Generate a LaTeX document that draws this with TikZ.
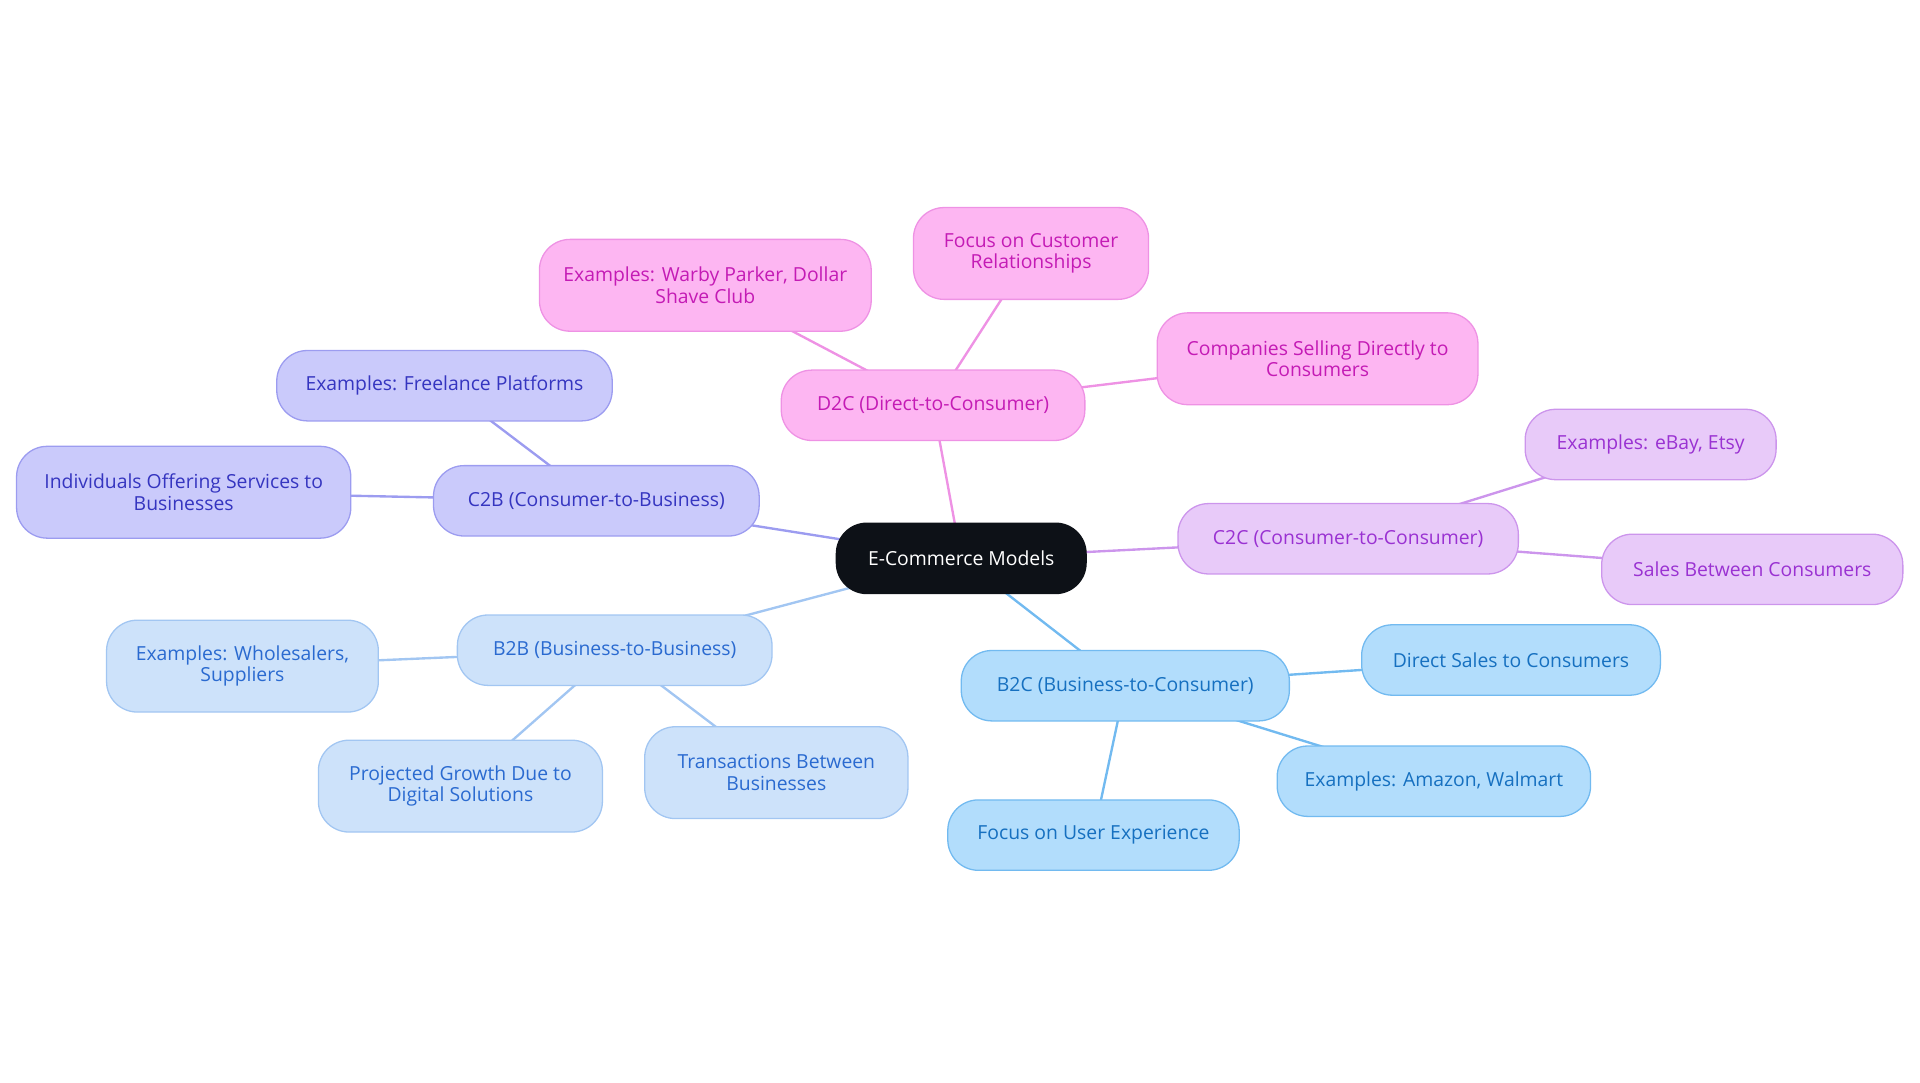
\documentclass[tikz,border=0pt]{standalone}
\usepackage{fontspec}
\setmainfont{Open Sans}
\usetikzlibrary{backgrounds}
\definecolor{rootc}{HTML}{0D1117}
\definecolor{pkF}{HTML}{FDB6F2}\definecolor{pkB}{HTML}{EE92E4}\definecolor{pkT}{HTML}{C41BB5}
\definecolor{inF}{HTML}{CACAFB}\definecolor{inB}{HTML}{9C9CF0}\definecolor{inT}{HTML}{3535C0}
\definecolor{vlF}{HTML}{E8CAF9}\definecolor{vlB}{HTML}{CC95EC}\definecolor{vlT}{HTML}{9A32D2}
\definecolor{lbF}{HTML}{CDE2FA}\definecolor{lbB}{HTML}{A2C6F2}\definecolor{lbT}{HTML}{2A6AD0}
\definecolor{skF}{HTML}{B2DDFC}\definecolor{skB}{HTML}{72BAF0}\definecolor{skT}{HTML}{1670C0}
\begin{document}
\begin{tikzpicture}[x=0.02cm,y=-0.02cm,
  box/.style={rounded corners=0.5cm,draw,line width=0.6pt,align=center,
    font=\fontsize{9}{10}\selectfont,inner sep=0pt,minimum height=1.15cm},
  tall/.style={minimum height=1.5cm},
  pk/.style={box,fill=pkF,draw=pkB,text=pkT},
  ind/.style={box,fill=inF,draw=inB,text=inT},
  vl/.style={box,fill=vlF,draw=vlB,text=vlT},
  lb/.style={box,fill=lbF,draw=lbB,text=lbT},
  sk/.style={box,fill=skF,draw=skB,text=skT},
  ed/.style={line width=1.1pt}]
\useasboundingbox (0,0) rectangle (1568,884);
\node[box,fill=rootc,draw=rootc,text=white,minimum width=4.08cm] (root) at (785,456) {E-Commerce Models};
\node[pk,minimum width=4.96cm] (d2c) at (762,331) {D2C (Direct-to-Consumer)};
\node[pk,tall,minimum width=5.42cm] (d1) at (576,233) {Examples: Warby Parker, Dollar\\Shave Club};
\node[pk,tall,minimum width=3.84cm] (d2) at (842,207) {Focus on Customer\\Relationships};
\node[pk,tall,minimum width=5.24cm] (d3) at (1076,293) {Companies Selling Directly to\\Consumers};
\node[ind,minimum width=5.32cm] (c2b) at (487,409) {C2B (Consumer-to-Business)};
\node[ind,minimum width=5.48cm] (cb1) at (363,315) {Examples: Freelance Platforms};
\node[ind,tall,minimum width=5.46cm] (cb2) at (150,402) {Individuals Offering Services to\\Businesses};
\node[vl,minimum width=5.56cm] (c2c) at (1101,440) {C2C (Consumer-to-Consumer)};
\node[vl,minimum width=4.1cm] (cc1) at (1348,363) {Examples: eBay, Etsy};
\node[vl,minimum width=4.92cm] (cc2) at (1431,465) {Sales Between Consumers};
\node[lb,minimum width=5.14cm] (b2b) at (502,531) {B2B (Business-to-Business)};
\node[lb,tall,minimum width=4.44cm] (bb1) at (198,544) {Examples: Wholesalers,\\Suppliers};
\node[lb,tall,minimum width=4.64cm] (bb2) at (376,642) {Projected Growth Due to\\Digital Solutions};
\node[lb,tall,minimum width=4.3cm] (bb3) at (634,631) {Transactions Between\\Businesses};
\node[sk,minimum width=5.36cm] (b2c) at (919,560) {B2C (Business-to-Consumer)};
\node[sk,minimum width=4.88cm] (bc1) at (1234,539) {Direct Sales to Consumers};
\node[sk,minimum width=5.12cm] (bc2) at (1171,638) {Examples: Amazon, Walmart};
\node[sk,minimum width=4.76cm] (bc3) at (893,682) {Focus on User Experience};
\begin{scope}[on background layer]
\draw[ed,pkB] (root.center)--(d2c.center);
\draw[ed,pkB] (d2c.center)--(d1.center) (d2c.center)--(d2.center) (d2c.center)--(d3.center);
\draw[ed,inB] (root.center)--(c2b.center);
\draw[ed,inB] (c2b.center)--(cb1.center) (c2b.center)--(cb2.center);
\draw[ed,vlB] (root.center)--(c2c.center);
\draw[ed,vlB] (c2c.center)--(cc1.center) (c2c.center)--(cc2.center);
\draw[ed,lbB] (root.center)--(b2b.center);
\draw[ed,lbB] (b2b.center)--(bb1.center) (b2b.center)--(bb2.center) (b2b.center)--(bb3.center);
\draw[ed,skB] (root.center)--(b2c.center);
\draw[ed,skB] (b2c.center)--(bc1.center) (b2c.center)--(bc2.center) (b2c.center)--(bc3.center);
\end{scope}
\end{tikzpicture}
\end{document}
